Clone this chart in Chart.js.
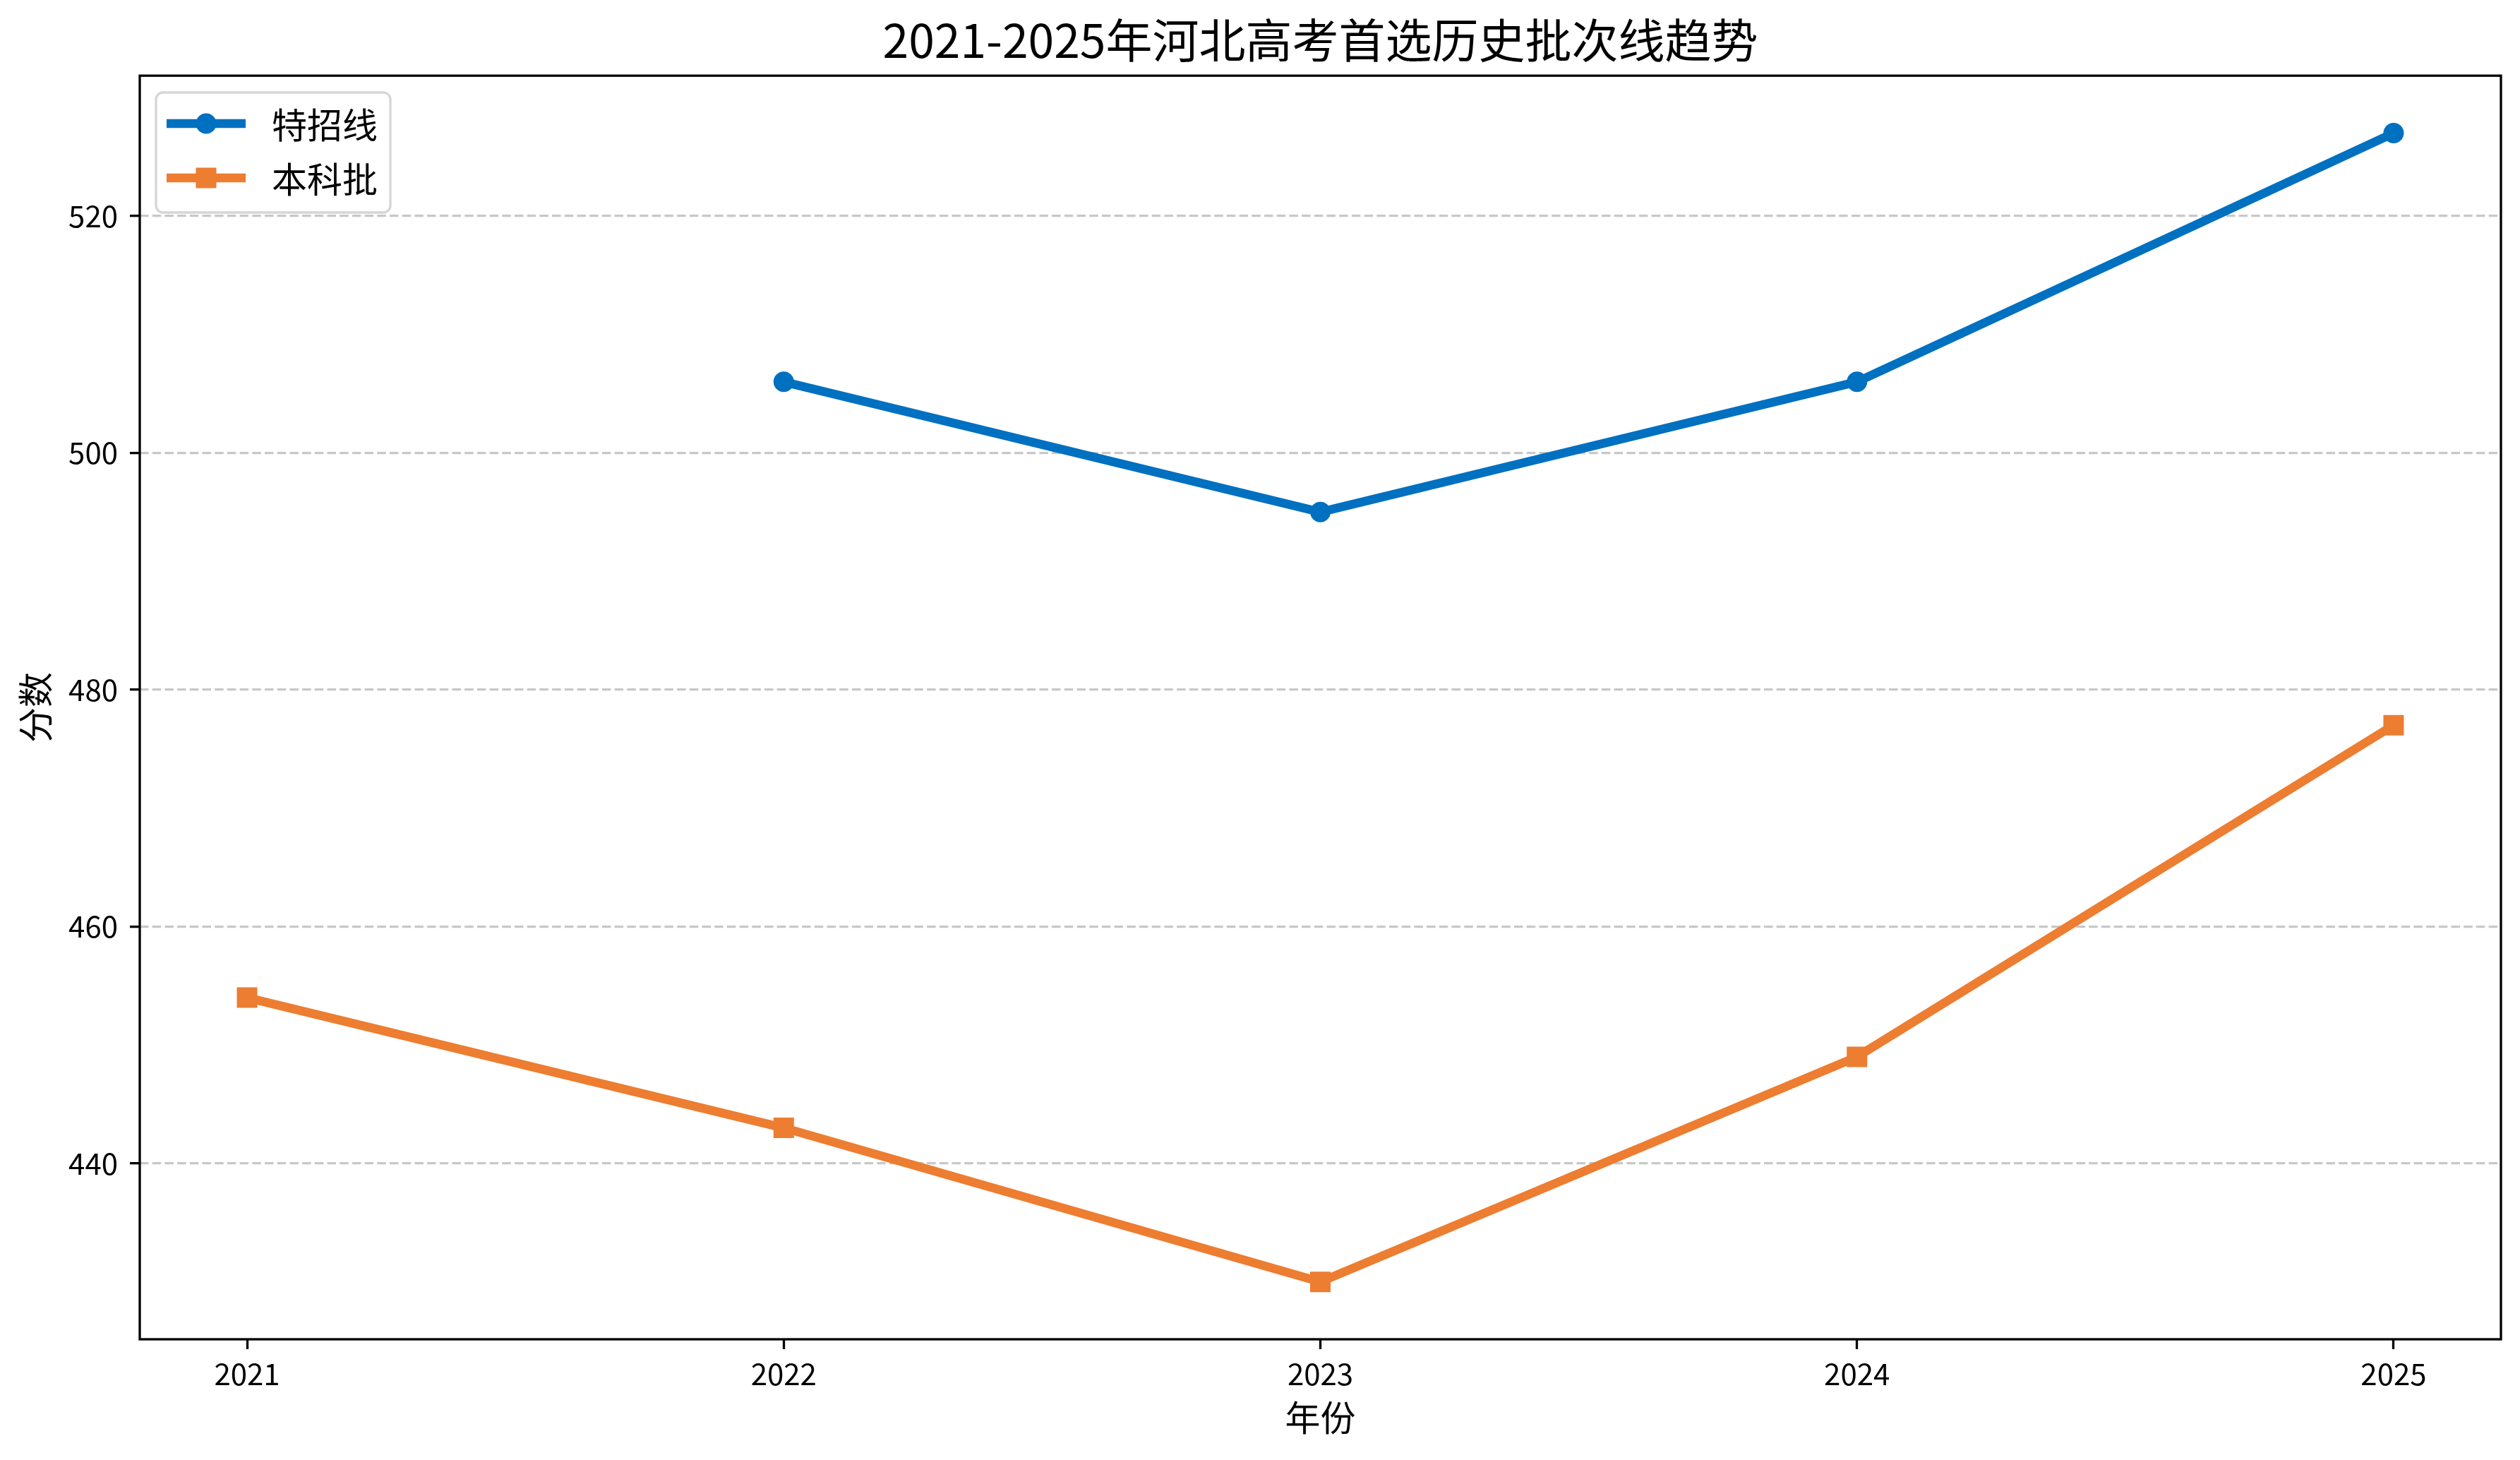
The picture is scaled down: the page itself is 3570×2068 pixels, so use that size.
<!DOCTYPE html>
<html>
<head>
<meta charset="utf-8">
<script src="https://cdn.jsdelivr.net/npm/chart.js@4"></script>
<style>
  html, body { margin: 0; padding: 0; background: #fff; }
  canvas { display: block; }
</style>
</head>
<body>
<canvas id="trendChart" width="3570" height="2068"></canvas>
<script>
const years = [2021, 2022, 2023, 2024, 2025];
const specialLine = [null, 506, 495, 506, 527];
const undergradLine = [454, 443, 430, 449, 477];
const yTicks = [440, 460, 480, 500, 520];
const seriesNames = ['特招线', '本科批'];

const colors = { blue: '#0070c0', orange: '#ed7d31', grid: '#c8c8c8', frame: '#000' };
const FONT = '"Noto Sans CJK SC", "Noto Sans", sans-serif';

// matplotlib style: full black box around the axes
const framePlugin = {
  id: 'frame',
  afterDraw(chart) {
    const { ctx, chartArea: a } = chart;
    ctx.save();
    ctx.strokeStyle = colors.frame;
    ctx.lineWidth = 3.3;
    ctx.strokeRect(a.left, a.top, a.right - a.left, a.bottom - a.top);
    ctx.restore();
  }
};

// legend with line + marker, like matplotlib
const legendPlugin = {
  id: 'mplLegend',
  afterDraw(chart) {
    const { ctx } = chart;
    const x0 = 221, y0 = 131, w = 332, h = 170;
    ctx.save();
    ctx.fillStyle = 'rgba(255,255,255,0.8)';
    ctx.strokeStyle = '#d6d6d6';
    ctx.lineWidth = 3.3;
    ctx.beginPath();
    ctx.roundRect(x0, y0, w, h, 10);
    ctx.fill();
    ctx.stroke();
    chart.data.datasets.forEach((ds, i) => {
      const cy = 175 + i * 77;
      ctx.strokeStyle = ds.borderColor;
      ctx.lineWidth = ds.borderWidth;
      ctx.beginPath();
      ctx.moveTo(236, cy);
      ctx.lineTo(348, cy);
      ctx.stroke();
      ctx.fillStyle = ds.borderColor;
      ctx.beginPath();
      if (ds.pointStyle === 'rect') {
        ctx.rect(292 - 14.5, cy - 14.5, 29, 29);
      } else {
        ctx.arc(292, cy, 14.5, 0, Math.PI * 2);
      }
      ctx.fill();
      ctx.fillStyle = '#000';
      ctx.font = '50px ' + FONT;
      ctx.textBaseline = 'middle';
      ctx.textAlign = 'left';
      ctx.fillText(ds.label, 385, cy + 2);
    });
    ctx.restore();
  }
};

new Chart(document.getElementById('trendChart'), {
  type: 'line',
  data: {
    datasets: [
      {
        label: seriesNames[0],
        data: years.map((y, i) => ({ x: y, y: specialLine[i] })),
        borderColor: colors.blue,
        backgroundColor: colors.blue,
        borderWidth: 12.5,
        pointStyle: 'circle',
        pointRadius: 14.5,
        pointBorderWidth: 0,
        spanGaps: false,
        tension: 0
      },
      {
        label: seriesNames[1],
        data: years.map((y, i) => ({ x: y, y: undergradLine[i] })),
        borderColor: colors.orange,
        backgroundColor: colors.orange,
        borderWidth: 12.5,
        pointStyle: 'rect',
        pointRadius: 20.5,
        pointBorderWidth: 0,
        tension: 0
      }
    ]
  },
  options: {
    responsive: false,
    devicePixelRatio: 1,
    animation: false,
    layout: { padding: { left: 0, right: 27, top: 0, bottom: 0 } },
    plugins: {
      legend: { display: false },
      tooltip: { enabled: false },
      title: {
        display: true,
        text: '2021-2025年河北高考首选历史批次线趋势',
        fullSize: false,
        color: '#000',
        font: { family: FONT, size: 66, weight: 'normal', lineHeight: 1.2 },
        padding: { top: 17, bottom: 11 }
      }
    },
    scales: {
      x: {
        type: 'linear',
        min: 2020.8,
        max: 2025.2,
        afterBuildTicks: (scale) => { scale.ticks = years.map((v) => ({ value: v })); },
        afterFit: (scale) => { scale.height = 171; },
        border: { display: false },
        grid: { drawOnChartArea: false, drawTicks: true, tickLength: 14, tickColor: '#000', tickWidth: 3.3 },
        ticks: {
          color: '#000',
          padding: 10,
          font: { family: FONT, size: 42 },
          callback: (v) => String(v),
          maxRotation: 0
        },
        title: {
          display: true,
          text: '年份',
          color: '#000',
          font: { family: FONT, size: 50, lineHeight: 1.2 },
          padding: { top: 0, bottom: 30 }
        }
      },
      y: {
        min: 425.15,
        max: 531.85,
        afterBuildTicks: (scale) => { scale.ticks = yTicks.map((v) => ({ value: v })); },
        afterFit: (scale) => { scale.width = 198; },
        border: { display: false, dash: [12.5, 5.2] },
        grid: {
          drawOnChartArea: true,
          color: colors.grid,
          lineWidth: 3.3,
          drawTicks: true,
          tickLength: 14,
          tickColor: '#000',
          tickWidth: 3.3,
          tickBorderDash: []
        },
        ticks: {
          color: '#000',
          padding: 17,
          font: { family: FONT, size: 42 }
        },
        title: {
          display: true,
          text: '分数',
          color: '#000',
          font: { family: FONT, size: 50, lineHeight: 1.2 },
          padding: { top: 20, bottom: 0 }
        }
      }
    }
  },
  plugins: [framePlugin, legendPlugin]
});
</script>
</body>
</html>
